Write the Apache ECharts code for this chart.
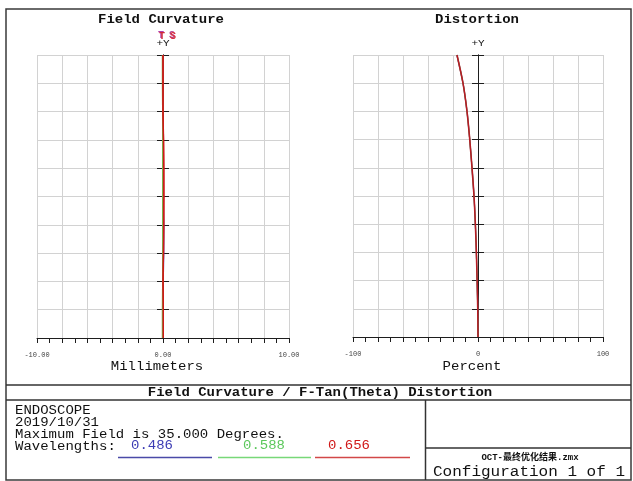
<!DOCTYPE html>
<html>
<head>
<meta charset="utf-8">
<title>Field Curvature / F-Tan(Theta) Distortion</title>
<script src="https://cdn.jsdelivr.net/npm/echarts@6/dist/echarts.min.js"></script>
<style>
  html, body { margin: 0; padding: 0; background: #ffffff; }
  #chart { width: 633px; height: 481px; }
</style>
</head>
<body>
<div id="chart"></div>
<script>
// Field angle (degrees) at which each curve is sampled
const fieldAngles = [0, 3.5, 7, 10.5, 14, 17.5, 21, 24.5, 28, 31.5, 35];

// Field curvature, millimeters (tangential / sagittal per wavelength)
const fcTan486 = [0.00, -0.01, 0.01, 0.05, 0.05, 0.01, 0.00, 0.00, 0.00, -0.01, -0.01];
const fcSag486 = [0.00, 0.00, -0.01, 0.02, 0.03, 0.00, -0.01, 0.00, 0.00, -0.01, -0.01];
const fcTan588 = [-0.03, -0.03, -0.02, -0.01, -0.01, -0.02, -0.02, -0.02, -0.02, -0.03, -0.03];
const fcSag588 = [-0.03, -0.03, -0.02, -0.01, -0.01, -0.02, -0.02, -0.02, -0.02, -0.03, -0.03];
const fcTan656 = [0.03, 0.03, 0.00, 0.04, 0.06, 0.07, 0.07, 0.05, 0.00, 0.00, 0.00];
const fcSag656 = [0.03, 0.03, 0.01, 0.04, 0.06, 0.07, 0.06, 0.04, 0.00, 0.00, 0.00];

// F-Tan(Theta) distortion, percent
const dist486 = [0, -0.2, -0.7, -1.3, -2.1, -3.2, -4.8, -6.6, -8.8, -12.0, -16.9];
const dist588 = [0, -0.2, -0.7, -1.3, -2.1, -3.2, -4.8, -6.6, -8.8, -12.0, -16.8];
const dist656 = [0, -0.2, -0.7, -1.3, -2.1, -3.2, -4.8, -6.6, -8.8, -12.0, -16.8];

// Wavelengths (micrometers) and their plot colours
const wavelengths = ['0.486', '0.588', '0.656'];
const waveColors = ['#3c3cb4', '#5cc85c', '#d01818'];
const waveLineColors = ['#4a4aa8', '#78d878', '#d24848'];

// Tick labels shown under each horizontal axis
const fcTickValues = [-10, 0, 10];
const fcTickLabels = ['-10.00', '0.00', '10.00'];
const distTickValues = [-100, 0, 100];
const distTickLabels = ['-100', '0', '100'];

// Header / info box text
const plotTitles = ['Field Curvature', 'Distortion'];
const axisNames = ['Millimeters', 'Percent'];
const reportTitle = 'Field Curvature / F-Tan(Theta) Distortion';
const infoLines = ['ENDOSCOPE', '2019/10/31', 'Maximum Field is 35.000 Degrees.'];
const fileName = 'OCT-最终优化结果.zmx';
const configText = 'Configuration 1 of 1';

const MONO = '"Liberation Mono", "Courier New", "Noto Sans CJK SC", monospace';
const AXIS_BLACK = '#1e1e1e';
const GRID_GRAY = '#d2d2d2';

function pairs(xs) {
  return xs.map((v, i) => [v, fieldAngles[i]]);
}

function labelFormatter(values, labels) {
  return function (v) {
    for (let i = 0; i < values.length; i++) {
      if (Math.abs(v - values[i]) < 1e-6) return labels[i];
    }
    return '';
  };
}

function xAxisFor(gridIndex, min, max, interval, values, labels) {
  return {
    type: 'value', gridIndex, min, max, interval,
    axisLine: { show: true, onZero: false, lineStyle: { color: AXIS_BLACK, width: 1 } },
    axisTick: { show: true, length: 5, lineStyle: { color: AXIS_BLACK, width: 1 } },
    minorTick: { show: true, splitNumber: 2, length: 5, lineStyle: { color: AXIS_BLACK, width: 1 } },
    splitLine: { show: true, lineStyle: { color: GRID_GRAY, width: 1 } },
    minorSplitLine: { show: false },
    axisLabel: {
      show: true, margin: 14, fontSize: 7, color: '#444', fontFamily: MONO,
      formatter: labelFormatter(values, labels)
    }
  };
}

// Central field axis: two axes at x = 0 so the ticks cross the line
function yAxisFor(gridIndex, position, onZeroIdx, withGrid) {
  return {
    type: 'value', gridIndex, position, min: 0, max: 35, interval: 3.5,
    axisLine: { show: true, onZero: true, onZeroAxisIndex: onZeroIdx, lineStyle: { color: AXIS_BLACK, width: 1 } },
    axisTick: { show: true, length: 6, lineStyle: { color: AXIS_BLACK, width: 1 } },
    axisLabel: { show: false },
    splitLine: { show: withGrid, lineStyle: { color: GRID_GRAY, width: 1 } }
  };
}

function lineSeries(name, xIdx, yIdx, values, color, width, smooth) {
  return {
    name, type: 'line', xAxisIndex: xIdx, yAxisIndex: yIdx,
    data: pairs(values), showSymbol: false, symbol: 'none',
    smooth: smooth || false,
    lineStyle: { color, width },
    z: 3
  };
}

function txt(text, x, y, opt, sy) {
  return {
    type: 'text', x, y, silent: true, z: 100,
    scaleY: sy || 1,
    style: Object.assign({
      text, fill: '#111', font: '13px ' + MONO,
      align: 'center', verticalAlign: 'middle'
    }, opt || {})
  };
}

function seg(x1, y1, x2, y2, stroke, w) {
  return {
    type: 'line', silent: true, z: 90,
    shape: { x1, y1, x2, y2 },
    style: { stroke: stroke || '#333', lineWidth: w || 1.5 }
  };
}

const SQ = 0.86; // vertical squeeze of the monospace captions

const graphics = [
  // outer frame and box rules
  { type: 'rect', silent: true, z: 90, shape: { x: 6, y: 9, width: 625, height: 471 },
    style: { fill: 'none', stroke: '#3a3a3a', lineWidth: 1.5 } },
  seg(6, 385, 631, 385),
  seg(6, 400, 631, 400),
  seg(425.5, 400, 425.5, 480),
  seg(425.5, 448, 631, 448),

  // plot titles
  txt(plotTitles[0], 161, 20, { font: 'bold 14px ' + MONO }, SQ),
  txt(plotTitles[1], 477, 20, { font: 'bold 14px ' + MONO }, SQ),

  // +Y markers
  txt('+Y', 163, 44, { font: '11px ' + MONO }, SQ),
  txt('+Y', 478, 44, { font: '11px ' + MONO }, SQ),

  // T / S curve tags above the field curvature plot
  txt('T', 161, 35, { font: 'bold 10px ' + MONO, fill: '#b040b0' }),
  txt('T', 162, 36, { font: 'bold 10px ' + MONO, fill: '#d02838' }),
  txt('S', 172, 35, { font: 'bold 10px ' + MONO, fill: '#b04090' }),
  txt('S', 173, 36, { font: 'bold 10px ' + MONO, fill: '#d83040' }),

  // axis names
  txt(axisNames[0], 157, 367, { font: '14px ' + MONO }, SQ),
  txt(axisNames[1], 472, 367, { font: '14px ' + MONO }, SQ),

  // report title
  txt(reportTitle, 320, 393, { font: 'bold 14px ' + MONO }, SQ),

  // file / configuration
  txt(fileName, 530, 458, { font: 'bold 9px ' + MONO }),
  txt(configText, 529, 472, { font: '16px ' + MONO }, SQ)
];

infoLines.forEach((line, i) => {
  graphics.push(txt(line, 15, 411 + i * 12, { align: 'left', font: '14px ' + MONO }, SQ));
});
graphics.push(txt('Wavelengths:', 15, 447, { align: 'left', font: '14px ' + MONO }, SQ));

const waveCenters = [152, 264, 349];
const waveLines = [[118, 212], [218, 311], [315, 410]];
wavelengths.forEach((w, i) => {
  graphics.push(txt(w, waveCenters[i], 446, { font: '14px ' + MONO, fill: waveColors[i] }, SQ));
  graphics.push(seg(waveLines[i][0], 457.5, waveLines[i][1], 457.5, waveLineColors[i], 1.5));
});

const option = {
  animation: false,
  backgroundColor: '#ffffff',
  grid: [
    { left: 37, top: 55, width: 252, height: 283, containLabel: false, outerBoundsMode: 'none' },
    { left: 353, top: 55, width: 250, height: 282, containLabel: false, outerBoundsMode: 'none' }
  ],
  xAxis: [
    xAxisFor(0, -10, 10, 2, fcTickValues, fcTickLabels),
    xAxisFor(1, -100, 100, 20, distTickValues, distTickLabels)
  ],
  yAxis: [
    yAxisFor(0, 'left', 0, true),
    yAxisFor(0, 'right', 0, false),
    yAxisFor(1, 'left', 1, true),
    yAxisFor(1, 'right', 1, false)
  ],
  series: [
    lineSeries('T 0.486', 0, 0, fcTan486, waveColors[0], 1.5),
    lineSeries('S 0.486', 0, 0, fcSag486, waveColors[0], 1.5),
    lineSeries('T 0.588', 0, 0, fcTan588, '#78b04a', 1.5),
    lineSeries('S 0.588', 0, 0, fcSag588, '#78b04a', 1.5),
    lineSeries('T 0.656', 0, 0, fcTan656, waveColors[2], 1.3),
    lineSeries('S 0.656', 0, 0, fcSag656, waveColors[2], 1.3),
    lineSeries('Distortion 0.486', 1, 2, dist486, waveColors[0], 1.2, 0.3),
    lineSeries('Distortion 0.588', 1, 2, dist588, waveColors[1], 1.2, 0.3),
    lineSeries('Distortion 0.656', 1, 2, dist656, '#b81c24', 1.6, 0.3)
  ],
  graphic: graphics
};

const chart = echarts.init(document.getElementById('chart'), null, { renderer: 'canvas' });
chart.setOption(option);
</script>
</body>
</html>
